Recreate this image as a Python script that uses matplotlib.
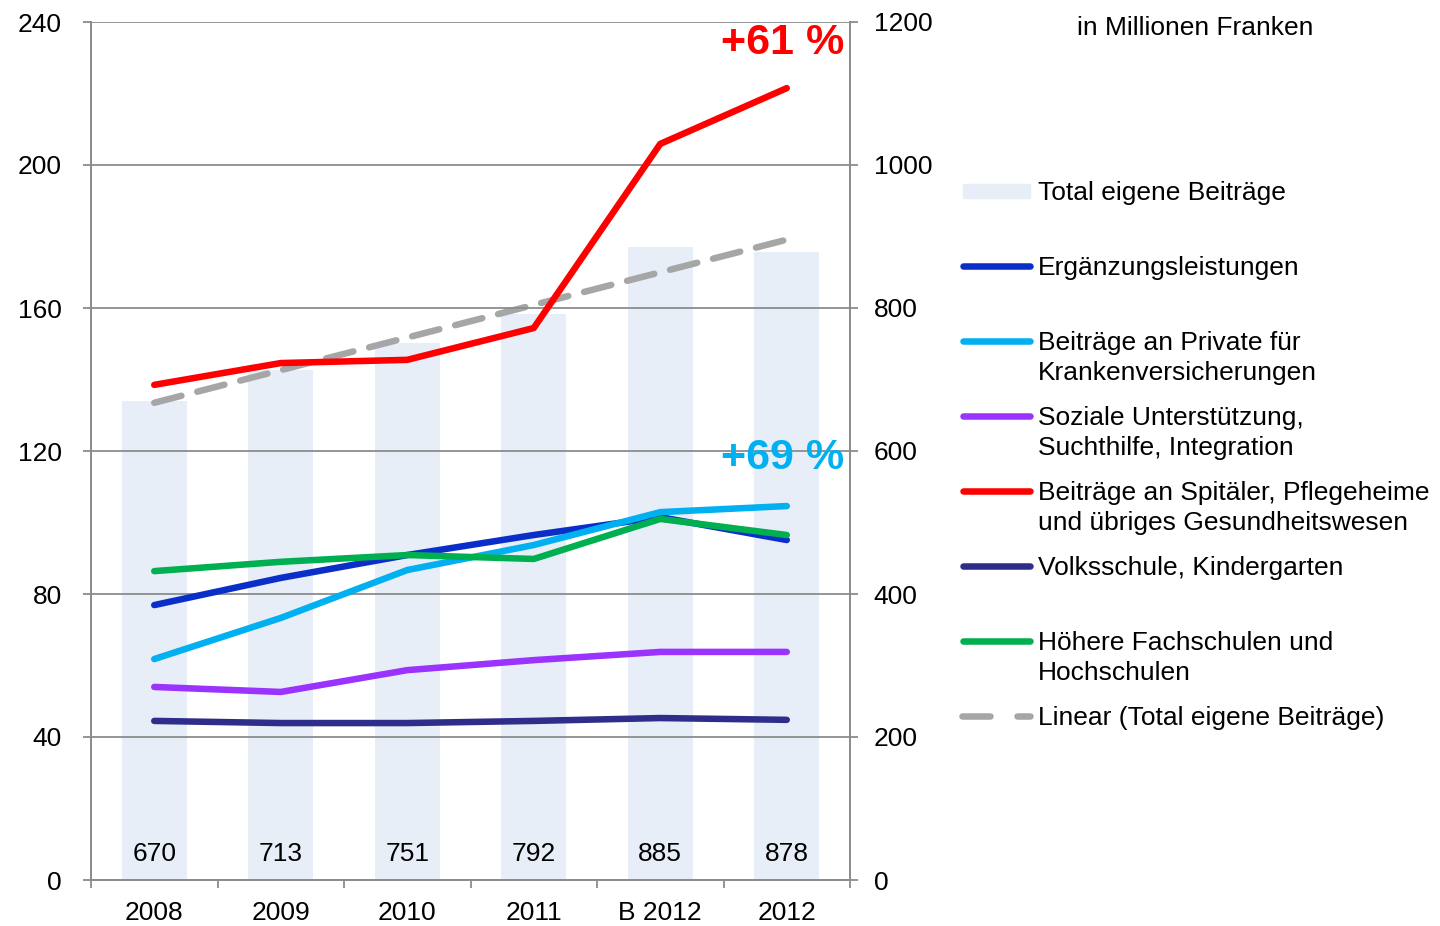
import numpy as np
import matplotlib
matplotlib.use("Agg")
import matplotlib.pyplot as plt
from matplotlib.lines import Line2D
from matplotlib.patches import Rectangle

plt.rcParams['font.family'] = ['Liberation Sans', 'DejaVu Sans']

categories = ["2008", "2009", "2010", "2011", "B 2012", "2012"]
total_eigene = [670, 713, 751, 792, 885, 878]
ergaenzung = [76.9, 84.5, 90.9, 96.5, 101.5, 95.1]
private_kv = [61.8, 73.3, 86.7, 93.7, 102.9, 104.6]
soziale = [54.0, 52.6, 58.7, 61.5, 63.8, 63.8]
spitaeler = [138.5, 144.6, 145.5, 154.4, 205.9, 221.5]
volksschule = [44.5, 43.9, 43.9, 44.5, 45.3, 44.8]
hochschulen = [86.4, 89.0, 90.9, 89.8, 101.0, 96.5]

W, H = 1440, 926
FS = 19
LW = 4.7
fig = plt.figure(figsize=(W / 100, H / 100), dpi=100)
ax1 = fig.add_axes([91 / W, 1 - 880 / H, (850 - 91) / W, (880 - 22) / H])
ax2 = ax1.twinx()

grid_col = "#8C8C8C"
bar_col = "#E8EEF7"
x = np.arange(len(categories))

# bars and trend on right axis
ax2.bar(x, total_eigene, width=0.51, color=bar_col, zorder=1)
coef = np.polyfit(x, total_eigene, 1)
trend = np.polyval(coef, x)
ax2.plot(x, trend, color="#A6A6A6", lw=LW, dashes=(4.3, 2.5), dash_capstyle="round", zorder=2)
for xi, v in zip(x, total_eigene):
    ax2.text(xi, 36, str(v), ha="center", va="center", fontsize=FS, color="#000000")
ax2.set_ylim(0, 1200)
ax2.set_yticks(np.arange(0, 1201, 200))

series = [
    (ergaenzung, "#0A2FC8"),
    (private_kv, "#00B0F0"),
    (soziale, "#9B33FF"),
    (spitaeler, "#FF0000"),
    (volksschule, "#2E2E8A"),
    (hochschulen, "#00B050"),
]
draw_order = [4, 2, 0, 1, 5, 3]
for i in draw_order:
    vals, col = series[i]
    ax1.plot(x, vals, color=col, lw=LW, solid_capstyle="round", solid_joinstyle="round", zorder=3)

ax1.set_zorder(ax2.get_zorder() + 1)
ax1.patch.set_visible(False)

ax1.set_ylim(0, 240)
ax1.set_yticks(np.arange(0, 241, 40))
ax1.set_xlim(-0.5, 5.5)
ax1.yaxis.grid(True, color=grid_col, lw=1.3)
ax1.set_axisbelow(False)
ax1.set_xticks(np.arange(-0.5, 5.6, 1.0))
ax1.set_xticklabels([])
ax1.set_xticks(x, minor=True)
ax1.set_xticklabels(categories, minor=True)
ax1.tick_params(axis="x", which="major", length=6, width=1.3, color=grid_col, direction="out")
ax1.tick_params(axis="x", which="minor", length=0, labelsize=FS, pad=15)
ax1.tick_params(axis="y", length=6, width=1.3, color=grid_col, labelsize=FS, pad=15)
ax2.tick_params(axis="y", length=6, width=1.3, color=grid_col, labelsize=FS, pad=11)

for a in (ax1, ax2):
    a.spines["top"].set_visible(False)
    for s in ("left", "right", "bottom"):
        a.spines[s].set_color(grid_col)
        a.spines[s].set_linewidth(1.3)

ax1.text(4.97, 234, "+61 %", color="#FF0000", fontsize=31, fontweight="bold",
         ha="center", va="center")
ax1.text(4.97, 118, "+69 %", color="#00B0F0", fontsize=31, fontweight="bold",
         ha="center", va="center")

def fx(px):
    return px / W

def fy(py):
    return 1 - py / H

fig.text(fx(1195), fy(28), "in Millionen Franken", fontsize=FS, ha="center", va="center")

leg_x0, leg_x1, txt_x = 963, 1030, 1038
fig.patches.append(Rectangle((fx(leg_x0), fy(198)), fx(leg_x1) - fx(leg_x0), fy(184) - fy(198),
                             transform=fig.transFigure, color=bar_col))
fig.text(fx(txt_x), fy(193), "Total eigene Beiträge", fontsize=FS, va="center")

legend_items = [
    (266, "Ergänzungsleistungen", series[0][1]),
    (341, "Beiträge an Private für\nKrankenversicherungen", series[1][1]),
    (416, "Soziale Unterstützung,\nSuchthilfe, Integration", series[2][1]),
    (491, "Beiträge an Spitäler, Pflegeheime\nund übriges Gesundheitswesen", series[3][1]),
    (566, "Volksschule, Kindergarten", series[4][1]),
    (641, "Höhere Fachschulen und\nHochschulen", series[5][1]),
]
for py, label, col in legend_items:
    fig.add_artist(Line2D([fx(leg_x0), fx(leg_x1)], [fy(py), fy(py)], transform=fig.transFigure,
                          color=col, lw=LW, solid_capstyle="round"))
    fig.text(fx(txt_x), fy(py - 10), label, fontsize=FS, va="top", linespacing=1.33)

fig.add_artist(Line2D([fx(962), fx(990)], [fy(716), fy(716)], transform=fig.transFigure,
                      color="#A6A6A6", lw=LW, solid_capstyle="round"))
fig.add_artist(Line2D([fx(1017), fx(1030)], [fy(716), fy(716)], transform=fig.transFigure,
                      color="#A6A6A6", lw=LW, solid_capstyle="round"))
fig.text(fx(txt_x), fy(718), "Linear (Total eigene Beiträge)", fontsize=FS, va="center")

fig.savefig("out.png", dpi=100)
